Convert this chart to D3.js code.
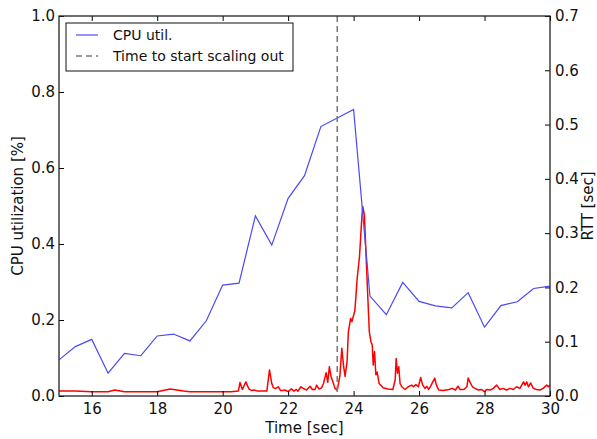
<!DOCTYPE html>
<html>
<head>
<meta charset="utf-8">
<script src="https://cdn.jsdelivr.net/npm/d3@7"></script>
<style>
  body { margin: 0; background: #fff; }
  svg { display: block; font-family: "DejaVu Sans", sans-serif; }
</style>
</head>
<body>
<svg id="chart" width="597" height="439"></svg>
<script>
// CPU utilization, sampled every 0.5 s
var cpuTime = [15, 15.5, 16, 16.5, 17, 17.5, 18, 18.5, 19, 19.5, 20, 20.5, 21, 21.5, 22, 22.5, 23, 24,
               24.5, 25, 25.5, 26, 26.5, 27, 27.5, 28, 28.5, 29, 29.5, 30];
var cpuUtil = [0.095, 0.13, 0.149, 0.06, 0.112, 0.106, 0.158, 0.163, 0.145, 0.198, 0.292, 0.297, 0.474, 0.397, 0.52, 0.58, 0.709, 0.754,
               0.263, 0.214, 0.299, 0.249, 0.237, 0.232, 0.272, 0.181, 0.238, 0.248, 0.283, 0.289];

// RTT (sec)
var rttTime = [15, 15.5, 16, 16.5, 16.7, 17, 17.5, 18, 18.4, 18.8, 19, 19.5, 20, 20.25, 20.48,
  20.53, 20.6, 20.71, 20.8, 20.89, 20.96, 21.07, 21.35, 21.43, 21.5, 21.55, 21.62, 21.7, 21.77, 21.85, 21.9,
  22.0, 22.1, 22.18, 22.25, 22.3, 22.39, 22.46, 22.56, 22.67, 22.74, 22.82, 22.87, 22.94, 23.02, 23.08,
  23.16, 23.21, 23.26, 23.31, 23.38, 23.43, 23.5, 23.58, 23.64, 23.69, 23.74, 23.8, 23.84, 23.91, 23.95,
  24.04, 24.11, 24.18, 24.25, 24.28, 24.33, 24.38, 24.44, 24.48, 24.53, 24.57, 24.6, 24.64, 24.68, 24.72,
  24.78, 24.9, 25.05, 25.2, 25.27, 25.3, 25.34, 25.38, 25.42, 25.47, 25.57, 25.67, 25.78, 25.83, 25.9,
  25.98, 26.05, 26.11, 26.18, 26.24, 26.29, 26.34, 26.42, 26.48, 26.53, 26.6, 26.75, 26.91, 27.01, 27.11,
  27.19, 27.25, 27.37, 27.46, 27.5, 27.56, 27.63, 27.71, 27.81, 27.91, 28.0, 28.06, 28.17, 28.27, 28.37,
  28.47, 28.57, 28.67, 28.78, 28.88, 28.98, 29.08, 29.19, 29.24, 29.29, 29.34, 29.41, 29.49, 29.59, 29.69,
  29.79, 29.9, 29.95, 30];
var rtt = [0.009, 0.009, 0.008, 0.008, 0.011, 0.008, 0.008, 0.008, 0.013, 0.009, 0.008, 0.008, 0.008, 0.008, 0.009,
  0.025, 0.012, 0.026, 0.013, 0.01, 0.011, 0.009, 0.009, 0.048, 0.023, 0.015, 0.014, 0.017, 0.01, 0.01, 0.011,
  0.008, 0.013, 0.009, 0.012, 0.009, 0.017, 0.014, 0.011, 0.018, 0.012, 0.012, 0.02, 0.013, 0.015, 0.023,
  0.043, 0.025, 0.054, 0.036, 0.024, 0.014, 0.011, 0.036, 0.088, 0.057, 0.036, 0.063, 0.118, 0.143, 0.137,
  0.158, 0.217, 0.257, 0.327, 0.349, 0.333, 0.26, 0.174, 0.118, 0.1, 0.094, 0.057, 0.082, 0.039, 0.044,
  0.023, 0.015, 0.013, 0.012, 0.03, 0.069, 0.042, 0.054, 0.023, 0.017, 0.012, 0.017, 0.02, 0.017, 0.021,
  0.017, 0.034, 0.02, 0.014, 0.018, 0.012, 0.017, 0.026, 0.033, 0.02, 0.011, 0.01, 0.012, 0.014, 0.011,
  0.018, 0.012, 0.012, 0.017, 0.033, 0.025, 0.017, 0.014, 0.011, 0.012, 0.008, 0.012, 0.011, 0.014, 0.02,
  0.012, 0.014, 0.011, 0.014, 0.012, 0.017, 0.014, 0.026, 0.02, 0.026, 0.017, 0.024, 0.014, 0.012, 0.011,
  0.014, 0.02, 0.017, 0.02];

var scaleOutTime = 23.5;

var xTicks = [16, 18, 20, 22, 24, 26, 28, 30];
var cpuTicks = [0, 0.2, 0.4, 0.6, 0.8, 1.0];
var rttTicks = [0, 0.1, 0.2, 0.3, 0.4, 0.5, 0.6, 0.7];

var legendLabels = ["CPU util.", "Time to start scaling out"];

// 描画領域 (window.top と衝突しないよう別名)
var pLeft = 59, pRight = 550, pTop = 16, pBottom = 396;
var svg = d3.select("#chart");

var x = d3.scaleLinear().domain([15, 30]).range([pLeft, pRight]);
var yL = d3.scaleLinear().domain([0, 1]).range([pBottom, pTop]);
var yR = d3.scaleLinear().domain([0, 0.7]).range([pBottom, pTop]);

var plot = svg.append("g");

// RTT line (red)
var rttLine = d3.line().x(function(d, i){ return x(rttTime[i]); }).y(function(d){ return yR(d); });
plot.append("path")
  .datum(rtt)
  .attr("d", rttLine)
  .attr("fill", "none")
  .attr("stroke", "#ff0000")
  .attr("stroke-width", 1.5)
  .attr("stroke-linejoin", "round");

// CPU line (blue)
var cpuLine = d3.line().x(function(d, i){ return x(cpuTime[i]); }).y(function(d){ return yL(d); });
plot.append("path")
  .datum(cpuUtil)
  .attr("d", cpuLine)
  .attr("fill", "none")
  .attr("stroke", "#4a4af5")
  .attr("stroke-width", 1.2);

// scale-out marker
plot.append("line")
  .attr("x1", x(scaleOutTime)).attr("x2", x(scaleOutTime))
  .attr("y1", pTop).attr("y2", pBottom)
  .attr("stroke", "#777")
  .attr("stroke-width", 1.5)
  .attr("stroke-dasharray", "6,4");

// axes (ticks point inward)
var fs = "15px";
var gx = svg.append("g").attr("transform", "translate(0," + pBottom + ")")
  .call(d3.axisBottom(x).tickValues(xTicks).tickFormat(d3.format("d")).tickSize(-5).tickPadding(7));
var gxt = svg.append("g").attr("transform", "translate(0," + pTop + ")")
  .call(d3.axisTop(x).tickValues(xTicks).tickFormat("").tickSize(-5));
var gl = svg.append("g").attr("transform", "translate(" + pLeft + ",0)")
  .call(d3.axisLeft(yL).tickValues(cpuTicks).tickFormat(d3.format(".1f")).tickSize(-5).tickPadding(4));
var gr = svg.append("g").attr("transform", "translate(" + pRight + ",0)")
  .call(d3.axisRight(yR).tickValues(rttTicks).tickFormat(d3.format(".1f")).tickSize(-5).tickPadding(5));

[gx, gxt, gl, gr].forEach(function(g){
  g.select(".domain").remove();
  g.selectAll(".tick line").attr("stroke", "#000").attr("stroke-width", 1);
  g.selectAll("text").attr("fill", "#111").style("font-size", fs).style("font-family", "DejaVu Sans");
});

// frame
svg.append("rect")
  .attr("x", pLeft).attr("y", pTop)
  .attr("width", pRight - pLeft).attr("height", pBottom - pTop)
  .attr("fill", "none").attr("stroke", "#222").attr("stroke-width", 1.3);

// axis labels
svg.append("text")
  .attr("x", (pLeft + pRight) / 2).attr("y", 433)
  .attr("text-anchor", "middle").style("font-size", fs).attr("fill", "#111")
  .text("Time [sec]");
svg.append("text")
  .attr("transform", "translate(23," + (pTop + pBottom) / 2 + ") rotate(-90)")
  .attr("text-anchor", "middle").style("font-size", fs).attr("fill", "#111")
  .text("CPU utilization [%]");
svg.append("text")
  .attr("transform", "translate(593," + (pTop + pBottom) / 2 + ") rotate(-90)")
  .attr("text-anchor", "middle").style("font-size", fs).attr("fill", "#111")
  .text("RTT [sec]");

// legend
var lg = svg.append("g");
lg.append("rect")
  .attr("x", 66).attr("y", 23).attr("width", 227).attr("height", 48)
  .attr("fill", "#fff").attr("stroke", "#111").attr("stroke-width", 1);
var items = lg.selectAll("g.item").data(legendLabels).enter().append("g")
  .attr("transform", function(d, i){ return "translate(0," + (35 + i * 21) + ")"; });
items.append("line")
  .attr("x1", 76).attr("x2", 98).attr("y1", 0).attr("y2", 0)
  .attr("stroke", function(d, i){ return i == 0 ? "#4a4af5" : "#777"; })
  .attr("stroke-width", function(d, i){ return i == 0 ? 1.2 : 1.5; })
  .attr("stroke-dasharray", function(d, i){ return i == 0 ? null : "6,4"; });
items.append("text")
  .attr("x", 113).attr("y", 5)
  .style("font-size", "14px").attr("fill", "#111")
  .text(function(d){ return d; });
</script>
</body>
</html>
